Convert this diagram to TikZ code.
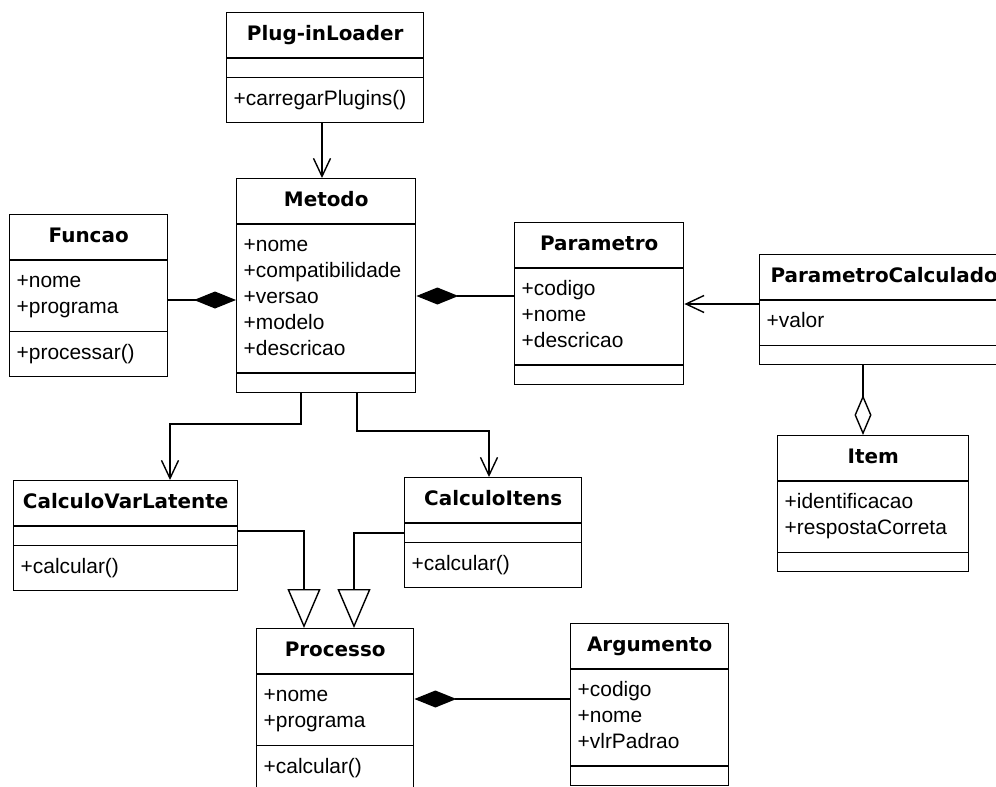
\documentclass[tikz,border=0pt]{standalone}
\usepackage{fontspec}
\setmainfont{Liberation Sans}
\newfontfamily\ttlfont{DejaVu Sans}
\usetikzlibrary{shapes.multipart,arrows.meta}
\newcommand{\ttl}[1]{{\ttlfont\bfseries\fontsize{20}{26}\selectfont\strut#1}}
\newcommand{\cls}[1]{\begin{tabular}{@{}l@{}}#1\end{tabular}}
\newcommand{\nocls}{\rule{1bp}{0bp}}

\begin{document}
\begin{tikzpicture}[x=1bp,y=-1bp,
  umlc/.style={rectangle split,rectangle split parts=3,draw,line width=1.4bp,
    anchor=north west,inner xsep=7bp,inner ysep=9bp,
    rectangle split part align={center,left,left},
    font=\fontsize{21}{26}\selectfont},
  conn/.style={line width=1.4bp},
  comp/.style={conn,-{Diamond[length=42bp,width=17bp]}},
  agg/.style={conn,-{Diamond[open,length=40bp,width=17bp]}},
  assoc/.style={conn,-{Straight Barb[length=18bp,width=17bp]}},
  gen/.style={conn,-{Triangle[open,length=39bp,width=33bp]}}]
 \useasboundingbox (0,0) rectangle (996,787);
 \clip (0,0) rectangle (996,787);
 \node[umlc,minimum width=197bp] (PLG) at (226,12)
  {\ttl{Plug-inLoader}\nodepart{two}\nocls\nodepart{three}\cls{+carregarPlugins()}};
 \node[umlc,minimum width=179bp] (MET) at (236,178)
  {\ttl{Metodo}\nodepart{two}\cls{+nome\\+compatibilidade\\+versao\\+modelo\\+descricao}\nodepart{three}\nocls};
 \node[umlc,minimum width=158bp] (FUN) at (9,214)
  {\ttl{Funcao}\nodepart{two}\cls{+nome\\+programa}\nodepart{three}\cls{+processar()}};
 \node[umlc,minimum width=169bp] (PAR) at (514,222)
  {\ttl{Parametro}\nodepart{two}\cls{+codigo\\+nome\\+descricao}\nodepart{three}\nocls};
 \node[umlc,minimum width=249bp] (PCA) at (759,254)
  {\ttl{ParametroCalculado}\nodepart{two}\cls{+valor}\nodepart{three}\nocls};
 \node[umlc,minimum width=191bp] (ITE) at (777,435)
  {\ttl{Item}\nodepart{two}\cls{+identificacao\\+respostaCorreta}\nodepart{three}\nocls};
 \node[umlc,minimum width=224bp] (CVL) at (13,480)
  {\ttl{CalculoVarLatente}\nodepart{two}\nocls\nodepart{three}\cls{+calcular()}};
 \node[umlc,minimum width=177bp] (CIT) at (404,477)
  {\ttl{CalculoItens}\nodepart{two}\nocls\nodepart{three}\cls{+calcular()}};
 \node[umlc,minimum width=157bp] (PRO) at (256,628)
  {\ttl{Processo}\nodepart{two}\cls{+nome\\+programa}\nodepart{three}\cls{+calcular()}};
 \node[umlc,minimum width=158bp] (ARG) at (570,623)
  {\ttl{Argumento}\nodepart{two}\cls{+codigo\\+nome\\+vlrPadrao}\nodepart{three}\nocls};
 \draw[assoc] (PLG.south -| 322,0) -- (MET.north -| 322,0);
 \draw[comp] (FUN.east |- 0,300) -- (MET.west |- 0,300);
 \draw[comp] (PAR.west |- 0,296) -- (MET.east |- 0,296);
 \draw[assoc] (PCA.west |- 0,304) -- (PAR.east |- 0,304);
 \draw[agg] (PCA.south -| 863,0) -- (ITE.north -| 863,0);
 \draw[assoc] (MET.south -| 301,0) |- (170,424) -- (CVL.north -| 170,0);
 \draw[assoc] (MET.south -| 357,0) |- (489,431) -- (CIT.north -| 489,0);
 \draw[gen] (CVL.east |- 0,531) -| (PRO.north -| 304,0);
 \draw[gen] (CIT.west |- 0,533) -| (PRO.north -| 354,0);
 \draw[comp] (ARG.west |- 0,699) -- (PRO.east |- 0,699);
\end{tikzpicture}
\end{document}
